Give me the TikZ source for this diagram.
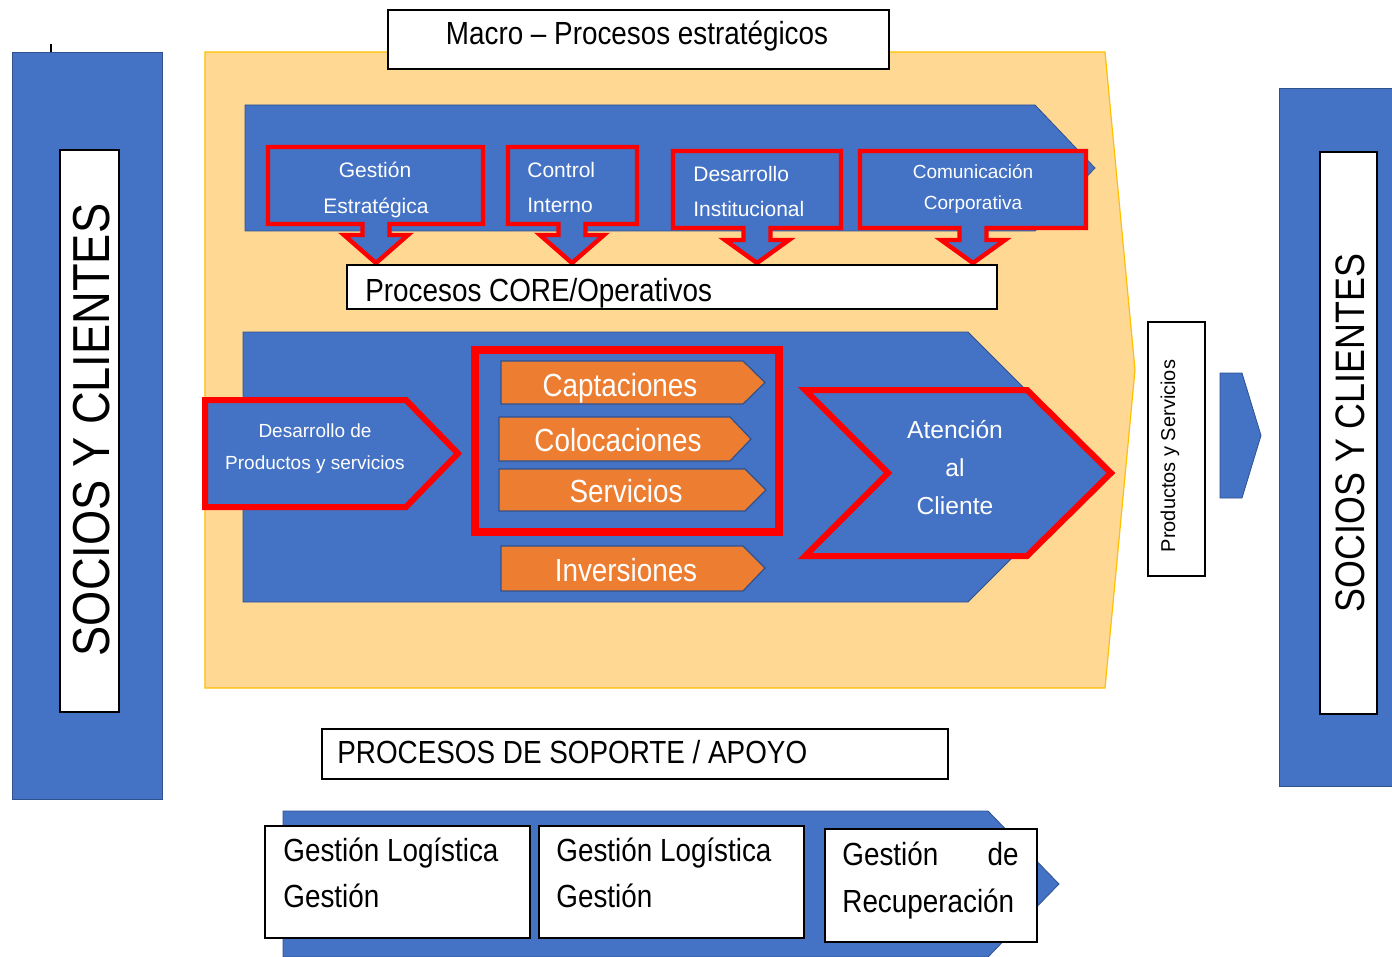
\documentclass[tikz,border=0pt]{standalone}
\usepackage{fontspec}
\setmainfont{Liberation Sans}
\newfontfamily\nar{Liberation Sans}[FakeStretch=0.87]
\definecolor{cblue}{HTML}{4472C4}
\definecolor{cedge}{HTML}{2F528F}
\definecolor{corange}{HTML}{ED7D31}
\definecolor{cbg}{HTML}{FFD993}
\definecolor{cgold}{HTML}{FFC000}
\definecolor{cred}{HTML}{FF0000}
\newcommand\mycallout[6]{%
  \draw[redcall] (#1,#3) -- (#2,#3) -- (#2,#4) -- (#5+13.5,#4) -- (#5+13.5,#6) -- (#5+32,#6) -- (#5,263) -- (#5-32,#6) -- (#5-13.5,#6) -- (#5-13.5,#4) -- (#1,#4) -- cycle;}
\begin{document}
\begin{tikzpicture}[x=0.5pt,y=-0.5pt,line join=miter,
  bluefill/.style={fill=cblue,draw=cedge,line width=0.4pt},
  redcall/.style={fill=cblue,draw=cred,line width=2.2pt},
  orarrow/.style={fill=corange,draw=cedge,line width=0.6pt},
  whitebox/.style={fill=white,draw=black,line width=0.8pt},
  wsmall/.style={text=white,inner sep=0pt,font=\fontsize{10.5}{12}\selectfont},
  wtiny/.style={text=white,inner sep=0pt,font=\fontsize{9.5}{11}\selectfont},
  wmid/.style={text=white,inner sep=0pt,font=\fontsize{12.3}{14}\selectfont},
  worange/.style={text=white,inner sep=0pt,font=\nar\fontsize{16}{18}\selectfont},
  blabel/.style={text=black,inner sep=0pt,font=\nar\fontsize{16}{18}\selectfont},
  socios/.style={text=black,inner sep=0pt,rotate=90,font=\nar\fontsize{26}{28}\selectfont},
  sociosr/.style={text=black,inner sep=0pt,rotate=90,font=\nar\fontsize{20.6}{22}\selectfont}]
\useasboundingbox (0,0) rectangle (1392,957);
\clip (0,0) rectangle (1392,957);
\fill[white] (0,0) rectangle (1392,957);

% left socios
\draw[line width=0.6pt] (51,44) -- (51,52);
\draw[bluefill] (12,52) rectangle (162,799);
\draw[whitebox] (60,150) rectangle (119,712);
\node[socios] (sc1) at (92,430) {SOCIOS Y CLIENTES};

% big orange background
\draw[fill=cbg,draw=cgold,line width=0.6pt] (205,52) -- (1105,52) -- (1135,370) -- (1105,688) -- (205,688) -- cycle;

% macro title
\draw[whitebox] (388,10) rectangle (889,69);
\node[blabel,anchor=base] (macro) at (637,45) {Macro – Procesos estratégicos};

% strategic pentagon
\draw[bluefill] (245,105) -- (1035,105) -- (1095,168) -- (1035,231) -- (245,231) -- cycle;
\mycallout{268}{483}{147}{224}{376}{235}
\mycallout{508}{637}{147}{224}{572}{235}
\mycallout{673}{841}{151}{228}{757}{240}
\mycallout{860}{1086}{151}{228}{973}{240}
\node[wsmall,anchor=base] (ge1) at (375,178) {Gestión};
\node[wsmall,anchor=base] (ge2) at (376,214) {Estratégica};
\node[wsmall,anchor=base west] (ci1) at (527,178) {Control};
\node[wsmall,anchor=base west] (ci2) at (527,213) {Interno};
\node[wsmall,anchor=base west] (di1) at (693,182) {Desarrollo};
\node[wsmall,anchor=base west] (di2) at (693,217) {Institucional};
\node[wtiny,anchor=base] (cc1) at (973,179) {Comunicación};
\node[wtiny,anchor=base] (cc2) at (973,210) {Corporativa};

% core label
\draw[whitebox] (347,265) rectangle (997,309);
\node[blabel,anchor=base west] (core) at (365,301) {Procesos CORE/Operativos};

% core pentagon
\draw[bluefill] (243,332) -- (968,332) -- (1103,467) -- (968,602) -- (243,602) -- cycle;

% red frame
\draw[cred,line width=4pt] (475,350) rectangle (779,532);

% orange arrows
\draw[orarrow] (501,361) -- (743,361) -- (765,382.5) -- (743,404) -- (501,404) -- cycle;
\draw[orarrow] (499,417) -- (730,417) -- (751,439) -- (730,461) -- (499,461) -- cycle;
\draw[orarrow] (499,469) -- (745,469) -- (766,490) -- (745,511) -- (499,511) -- cycle;
\draw[orarrow] (501,546) -- (743,546) -- (765,568) -- (743,591) -- (501,591) -- cycle;
\node[worange,anchor=base] (cap) at (620,396) {Captaciones};
\node[worange,anchor=base] (col) at (618,451) {Colocaciones};
\node[worange,anchor=base] (ser) at (626,502) {Servicios};
\node[worange,anchor=base] (inv) at (626,581) {Inversiones};

% desarrollo de productos
\draw[fill=cblue,draw=cred,line width=3pt] (205,400) -- (406,400) -- (458,453.5) -- (406,507) -- (205,507) -- cycle;
\node[wtiny,anchor=base] (dp1) at (315,437) {Desarrollo de};
\node[wtiny,anchor=base] (dp2) at (315,469) {Productos y servicios};

% atencion chevron
\draw[fill=cblue,draw=cred,line width=3pt] (805,390) -- (1027,390) -- (1111,473) -- (1027,556) -- (805,556) -- (888,473) -- cycle;
\node[wmid,anchor=base] (at1) at (955,438) {Atención};
\node[wmid,anchor=base] (at2) at (955,476) {al};
\node[wmid,anchor=base] (at3) at (955,514) {Cliente};

% productos y servicios box and arrow
\draw[whitebox] (1148,322) rectangle (1205,576);
\node[inner sep=0pt,rotate=90,font=\fontsize{10}{12}\selectfont] (pys) at (1170,456) {Productos y Servicios};
\draw[bluefill] (1220,373) -- (1242,373) -- (1261,435.5) -- (1242,498) -- (1220,498) -- cycle;

% right socios
\draw[bluefill] (1279,88) rectangle (1395,786);
\draw[whitebox] (1320,152) rectangle (1377,714);
\node[sociosr] (sc2) at (1350,433) {SOCIOS Y CLIENTES};

% soporte
\draw[whitebox] (322,729) rectangle (948,779);
\node[blabel,anchor=base west] (sop) at (337,763.5) {PROCESOS DE SOPORTE / APOYO};
\draw[bluefill] (283,811) -- (988,811) -- (1059,884) -- (988,957) -- (283,957) -- cycle;
\draw[whitebox] (265,826) rectangle (530,938);
\draw[whitebox] (539,826) rectangle (804,938);
\draw[whitebox] (825,829) rectangle (1037,942);
\node[blabel,anchor=base west] (gl1) at (283,861) {Gestión Logística};
\node[blabel,anchor=base west] (gl2) at (283,907) {Gestión};
\node[blabel,anchor=base west] (gm1) at (556,861) {Gestión Logística};
\node[blabel,anchor=base west] (gm2) at (556,907) {Gestión};
\node[blabel,anchor=base west] (gr1) at (842,865) {Gestión};
\node[blabel,anchor=base east] (gr2) at (1019,865) {de};
\node[blabel,anchor=base west] (gr3) at (842,912) {Recuperación};
\end{tikzpicture}
\end{document}
